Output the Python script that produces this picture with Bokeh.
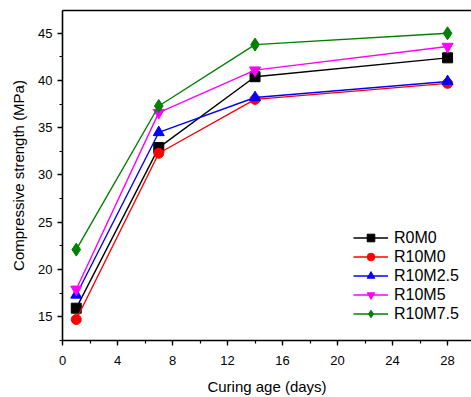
from bokeh.plotting import figure
from bokeh.models import (Range1d, SingleIntervalTicker, LinearAxis, FixedTicker,
                          Legend, LegendItem)
from bokeh.embed import file_html
from bokeh.resources import INLINE

days = [1, 7, 14, 28]
series_names = ["R0M0", "R10M0", "R10M2.5", "R10M5", "R10M7.5"]
r0m0 = [15.9, 32.9, 40.4, 42.4]
r10m0 = [14.7, 32.3, 38.0, 39.7]
r10m25 = [17.3, 34.5, 38.2, 39.9]
r10m5 = [17.9, 36.6, 41.1, 43.6]
r10m75 = [22.1, 37.3, 43.8, 45.0]
x_ticks_interval = 4
y_ticks_interval = 5

values = [r0m0, r10m0, r10m25, r10m5, r10m75]
colors = ["#000000", "#ff0000", "#0000ff", "#ff00ff", "#008000"]
markers = ["square", "circle", "triangle", "inverted_triangle", "diamond"]
msizes = [10, 10, 11, 11, 13]

FONT = "Liberation Sans"

p = figure(width=471, height=397, output_backend="svg", toolbar_location=None,
           x_range=Range1d(0, 29.74), y_range=Range1d(12.48, 47.41),
           min_border_left=62, min_border_right=0, min_border_top=10,
           min_border_bottom=54)
p.outline_line_color = None
p.xgrid.visible = False
p.ygrid.visible = False
p.background_fill_color = "white"

items = []
for name, vals, c, m, s in zip(series_names, values, colors, markers, msizes):
    l = p.line(days, vals, line_color=c, line_width=1.4)
    sc = p.scatter(days, vals, marker=m, size=s, fill_color=c, line_color=c)
    items.append(LegendItem(label=name, renderers=[l, sc]))

for ax in (p.xaxis[0], p.yaxis[0]):
    ax.axis_line_width = 1.6
    ax.axis_line_color = "black"
    ax.major_tick_line_color = "black"
    ax.minor_tick_line_color = "black"
    ax.major_tick_line_width = 1.3
    ax.minor_tick_line_width = 1.2
    ax.major_tick_out = 5
    ax.major_tick_in = 0
    ax.minor_tick_out = 3
    ax.minor_tick_in = 0
    ax.major_label_text_font = FONT
    ax.major_label_text_font_size = "13px"
    ax.major_label_text_color = "black"
    ax.axis_label_text_font = FONT
    ax.axis_label_text_font_size = "15px"
    ax.axis_label_text_font_style = "normal"
    ax.axis_label_text_color = "black"

p.xaxis[0].ticker = SingleIntervalTicker(interval=x_ticks_interval, num_minor_ticks=2)
p.yaxis[0].ticker = SingleIntervalTicker(interval=y_ticks_interval, num_minor_ticks=2)
p.xaxis[0].axis_label = "Curing age (days)"
p.yaxis[0].axis_label = "Compressive strength (MPa)"
p.xaxis[0].major_label_standoff = 10
p.yaxis[0].major_label_standoff = 5
p.xaxis[0].axis_label_standoff = 10
p.yaxis[0].axis_label_standoff = 8

top = LinearAxis(ticker=FixedTicker(ticks=[]), major_label_text_font_size="0px",
                 axis_line_width=1.6, axis_line_color="black",
                 major_tick_out=0, minor_tick_out=0)
p.add_layout(top, "above")

legend = Legend(items=items, location=(291, 17), padding=0, margin=0,
                spacing=0, glyph_width=35, glyph_height=19, label_height=19,
                label_standoff=6, border_line_color=None, background_fill_alpha=0,
                label_text_font=FONT, label_text_font_size="16px",
                label_text_color="black")
p.add_layout(legend)

open("out.html", "w").write(file_html(p, INLINE))
